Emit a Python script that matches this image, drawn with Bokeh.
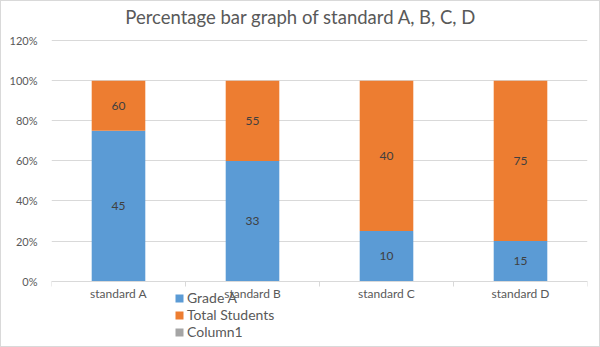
from bokeh.plotting import figure
from bokeh.models import ColumnDataSource, FixedTicker, NumeralTickFormatter, Legend, LegendItem, Label
from bokeh.core.properties import value
from bokeh.embed import file_html
from bokeh.resources import INLINE

title_text = "Percentage bar graph of standard A, B, C, D"
categories = ["standard A", "standard B", "standard C", "standard D"]
grade_a = [45, 33, 10, 15]
total_students = [60, 55, 40, 75]
column1 = [0, 0, 0, 0]
y_ticks = [0, 0.2, 0.4, 0.6, 0.8, 1.0, 1.2]

FONT = "Lato"
x = [i + 0.5 for i in range(len(categories))]
frac = [g / t for g, t in zip(grade_a, total_students)]
src = ColumnDataSource(dict(
    x=x,
    blue_top=frac,
    ones=[1.0] * len(x),
    zeros=[0.0] * len(x),
    col1=column1,
    blue_mid=[f / 2 for f in frac],
    orange_mid=[(f + 1) / 2 for f in frac],
    blue_lbl=[str(v) for v in grade_a],
    orange_lbl=[str(v) for v in total_students],
))

# frame spans title and legend areas too; x axis pinned at y = 0
p = figure(width=600, height=347, x_range=(0, 4), y_range=(-0.3364, 1.3958),
           output_backend="svg", toolbar_location=None,
           min_border_left=50, min_border_right=14, min_border_top=0, min_border_bottom=0)
p.outline_line_color = None
p.styles = {"border": "1px solid #d9d9d9", "box-sizing": "border-box"}

p.add_layout(Label(x=1.862, y=1.3205, text=title_text, text_align="center",
                   text_baseline="middle", text_font=FONT, text_font_size="18.5px",
                   text_color="#595959"))

r_blue = p.vbar(x="x", bottom="zeros", top="blue_top", width=0.4, source=src,
                fill_color="#5B9BD5", line_color=None)
r_orange = p.vbar(x="x", bottom="blue_top", top="ones", width=0.4, source=src,
                  fill_color="#ED7D31", line_color=None)
r_col1 = p.vbar(x="x", bottom="ones", top="ones", width=0.4, source=src,
                fill_color="#A5A5A5", line_color=None)

p.text(x="x", y="blue_mid", text="blue_lbl", source=src, text_align="center",
       text_baseline="middle", text_font=value(FONT), text_font_size="12px", text_color="#404040")
p.text(x="x", y="orange_mid", text="orange_lbl", source=src, text_align="center",
       text_baseline="middle", text_font=value(FONT), text_font_size="12px", text_color="#404040")

# axes
p.xaxis.fixed_location = 0
p.xaxis.ticker = FixedTicker(ticks=x, minor_ticks=list(range(len(categories) + 1)))
p.xaxis.major_label_overrides = {xi: c for xi, c in zip(x, categories)}
p.xaxis.major_tick_line_color = None
p.xaxis.major_tick_out = 0
p.xaxis.major_tick_in = 0
p.xaxis.minor_tick_line_color = "#d9d9d9"
p.xaxis.minor_tick_out = 5
p.xaxis.minor_tick_in = 0
p.xaxis.axis_line_color = "#d9d9d9"
p.xaxis.major_label_standoff = 0
p.xaxis.major_label_text_font = FONT
p.xaxis.major_label_text_font_size = "12px"
p.xaxis.major_label_text_color = "#595959"

p.yaxis.ticker = FixedTicker(ticks=y_ticks)
p.yaxis.formatter = NumeralTickFormatter(format="0%")
p.yaxis.axis_line_color = None
p.yaxis.major_tick_line_color = None
p.yaxis.minor_tick_line_color = None
p.yaxis.major_label_standoff = 8
p.yaxis.major_label_text_font = FONT
p.yaxis.major_label_text_font_size = "11px"
p.yaxis.major_label_text_color = "#595959"

p.xgrid.grid_line_color = None
p.ygrid.grid_line_color = "#d9d9d9"
p.ygrid.ticker = FixedTicker(ticks=y_ticks)

legend = Legend(items=[
    LegendItem(label="Grade A", renderers=[r_blue]),
    LegendItem(label="Total Students", renderers=[r_orange]),
    LegendItem(label="Column1", renderers=[r_col1]),
], location=(123, 8), orientation="vertical")
legend.glyph_width = 10
legend.glyph_height = 10
legend.label_height = 10
legend.spacing = 0
legend.padding = 0
legend.margin = 0
legend.label_standoff = 3
legend.border_line_color = None
legend.background_fill_alpha = 0
legend.label_text_font = FONT
legend.label_text_font_size = "14px"
legend.label_text_color = "#595959"
p.add_layout(legend, "center")

open("out.html", "w").write(file_html(p, INLINE))
